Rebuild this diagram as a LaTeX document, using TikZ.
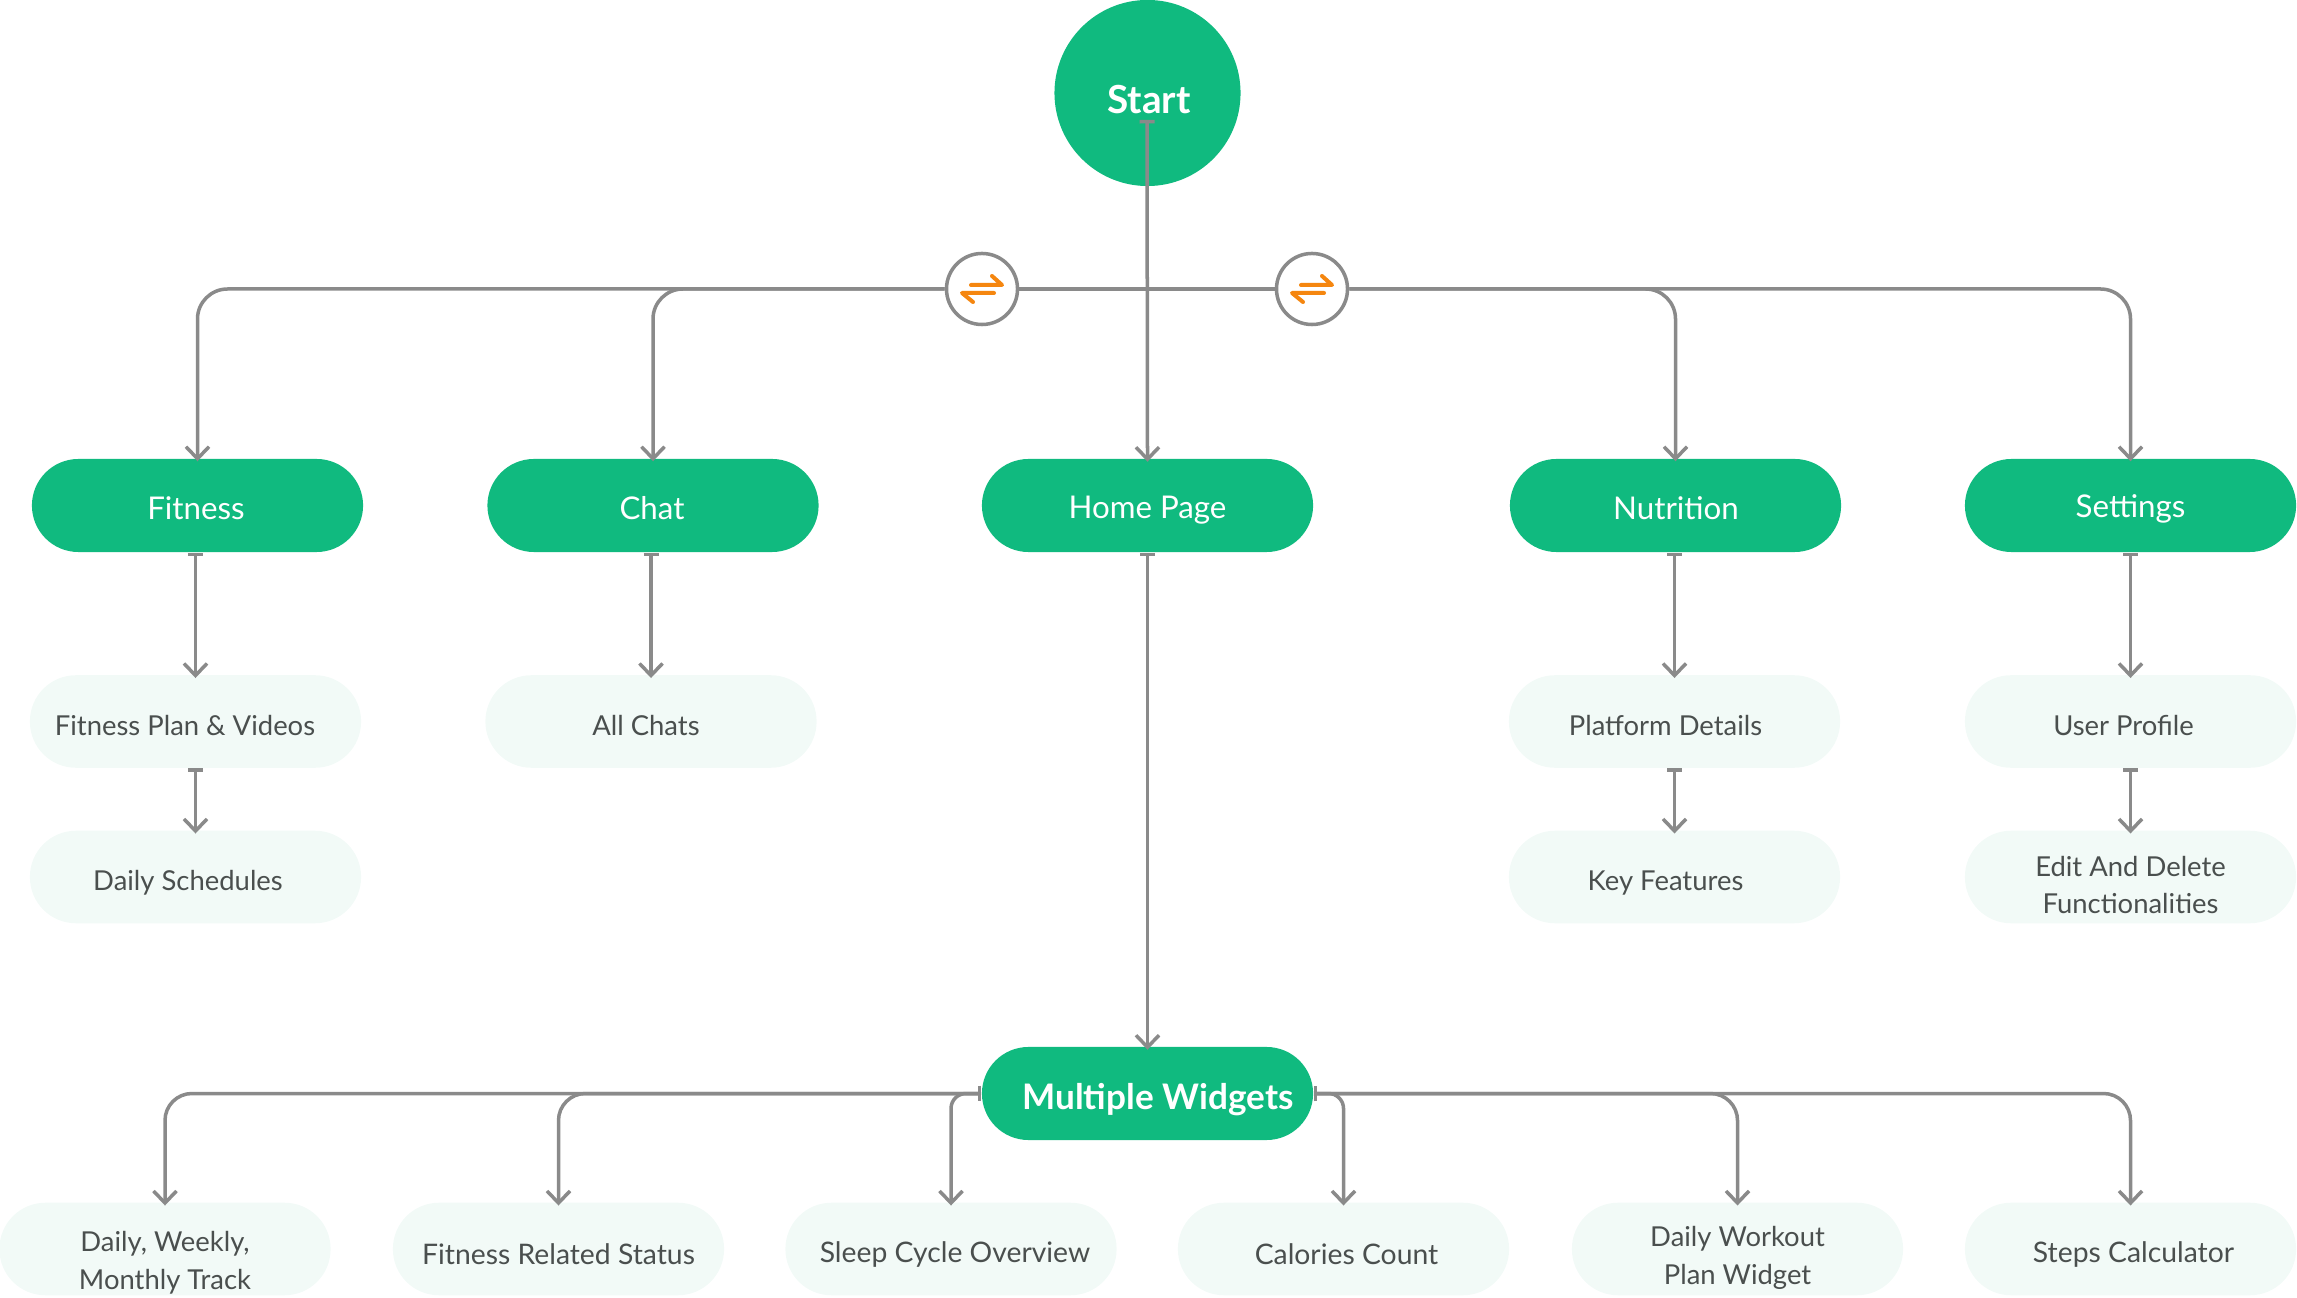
\documentclass[tikz,border=0pt]{standalone}
\usepackage{fontspec}
\setmainfont{Lato}
\usetikzlibrary{arrows.meta}
\definecolor{mintgreen}{HTML}{10BA7F}
\definecolor{palemint}{HTML}{F2FAF7}
\definecolor{linegray}{HTML}{8A8A8A}
\definecolor{darktext}{HTML}{4A4F4E}
\definecolor{swaporange}{HTML}{F5860F}
\tikzset{
  mainbox/.style={fill=mintgreen,minimum width=3.31cm,minimum height=.93cm,inner sep=0pt,rounded corners=.465cm},
  subbox/.style={fill=palemint,minimum width=3.31cm,minimum height=.925cm,inner sep=0pt,rounded corners=.46cm},
  maintext/.style={text=white,font=\fontsize{8.9}{10}\selectfont},
  boldtext/.style={text=white,font=\fontsize{10}{11}\selectfont\bfseries},
  subtext/.style={text=darktext,align=center,font=\fontsize{7.8}{10.8}\selectfont},
  lasttext/.style={text=darktext,align=center,font=\fontsize{8.05}{10.8}\selectfont},
  swapnode/.style={circle,draw=linegray,line width=.035cm,fill=white,minimum size=.71cm,inner sep=0pt},
  barb/.tip={Straight Barb[length=.12cm,width=.23cm,line width=.035cm]},
  flow/.style={draw=linegray,line width=.035cm,{Bar[width=.15cm,line width=.035cm]}-barb,shorten >=-.035cm},
  branch/.style={draw=linegray,line width=.035cm,-barb,rounded corners=.3cm,shorten >=-.03cm}
}
\begin{document}
\begin{tikzpicture}[x=.01cm,y=-.01cm]
    \useasboundingbox (0,0) rectangle (2297,1298);

    % Row heights
    \def\ymain{505.5}   % Fitness, Chat, Home Page, ...
    \def\yone{721.5}    % first sub row
    \def\ytwo{877}      % second sub row
    \def\ylast{1249}    % widget row

    % -- Start and the green row --
    \node[circle,fill=mintgreen,minimum size=1.86cm,inner sep=0pt,
      label={[boldtext,font=\fontsize{11}{12}\selectfont\bfseries,shift={(1.5,6.5)}]center:Start}] (start) at (1147.5,93) {};
    \coordinate (startend) at (1147,120);

    \node[mainbox,label={[maintext,shift={(-1.5,3)}]center:Fitness}] (fitness) at (197.5,\ymain) {};
    \node[mainbox,label={[maintext,shift={(-1,3)}]center:Chat}] (chat) at (653,\ymain) {};
    \node[mainbox,label={[maintext,shift={(0,5)}]center:Home Page}] (home) at (1147.5,\ymain) {};
    \node[mainbox,label={[maintext,shift={(0.5,3)}]center:Nutrition}] (nutrition) at (1675.5,\ymain) {};
    \node[mainbox,label={[maintext,shift={(0,3)}]center:Settings}] (settings) at (2130.5,\ymain) {};

    % -- Pale boxes under the green row --
    \node[subbox,label={[subtext,shift={(-10.5,4)}]center:Fitness Plan \& Videos}] (fitplan) at (195.5,\yone) {};
    \node[subbox,label={[subtext,shift={(-5,4)}]center:All Chats}] (allchats) at (651,\yone) {};
    \node[subbox,label={[subtext,shift={(-9,4)}]center:Platform Details}] (platform) at (1674.5,\yone) {};
    \node[subbox,label={[subtext,shift={(-7,4)}]center:User Profile}] (profile) at (2130.5,\yone) {};

    \node[subbox,label={[subtext,shift={(-7.5,6)}]center:Daily Schedules}] (schedules) at (195.5,\ytwo) {};
    \node[subbox,label={[subtext,shift={(-9,6)}]center:Key Features}] (features) at (1674.5,\ytwo) {};
    \node[subbox,label={[subtext,shift={(0,8)}]center:Edit And Delete\\Functionalities}] (editdelete) at (2130.5,\ytwo) {};

    % -- Multiple Widgets and its row --
    \node[mainbox,label={[boldtext,shift={(10.5,6.5)}]center:Multiple Widgets}] (widgets) at (1147.5,1093.5) {};

    \node[subbox,label={[subtext,shift={(0,14)}]center:Daily, Weekly,\\Monthly Track}] (dailytrack) at (165,\ylast) {};
    \node[subbox,label={[lasttext,shift={(0,5)}]center:Fitness Related Status}] (status) at (558.5,\ylast) {};
    \node[subbox,label={[lasttext,shift={(4,5)}]center:Sleep Cycle Overview}] (sleep) at (951,\ylast) {};
    \node[subbox,label={[lasttext,shift={(3,5)}]center:Calories Count}] (calories) at (1343.5,\ylast) {};
    \node[subbox,label={[subtext,shift={(0,9)}]center:Daily Workout\\Plan Widget}] (workout) at (1737.5,\ylast) {};
    \node[subbox,label={[lasttext,shift={(3,5)}]center:Steps Calculator}] (steps) at (2130.5,\ylast) {};

    % -- Swap circles on the top line --
    \node[swapnode] (swapl) at (982,289) {};
    \node[swapnode] (swapr) at (1312,289) {};
    \foreach \sw in {swapl,swapr} {
      \draw[swaporange,line width=.04cm,line cap=round,line join=round]
        ([shift={(-11,-4)}]\sw.center) -- ([shift={(20,-4)}]\sw.center) -- ([shift={(10,-13)}]\sw.center);
      \draw[swaporange,line width=.04cm,line cap=round,line join=round]
        ([shift={(12,4)}]\sw.center) -- ([shift={(-20,4)}]\sw.center) -- ([shift={(-9,13)}]\sw.center);
    }

    % -- Top tree --
    \draw[flow] (startend) -- (home.north);
    \draw[draw=linegray,line width=.035cm] (swapl) -- (swapr);
    \draw[branch] (swapl) -| (fitness.north);
    \draw[branch] (swapl) -| (chat.north);
    \draw[branch] (swapr) -| (nutrition.north);
    \draw[branch] (swapr) -| (settings.north);

    % -- Down the columns --
    \draw[flow] (fitness.south -| fitplan.north) -- (fitplan.north);
    \draw[flow] (fitplan) -- (schedules);
    \draw[flow] (chat.south -| allchats.north) -- (allchats.north);
    \draw[flow] (nutrition.south -| platform.north) -- (platform.north);
    \draw[flow] (platform) -- (features);
    \draw[flow] (settings) -- (profile);
    \draw[flow] (profile) -- (editdelete);
    \draw[flow] (home) -- (widgets);

    % -- Bottom tree --
    \draw[flow,rounded corners=.27cm] (widgets.west) -| (dailytrack.north);
    \draw[flow,rounded corners=.27cm] (widgets.west) -| (status.north);
    \draw[flow,rounded corners=.15cm] (widgets.west) -| (sleep.north);
    \draw[flow,rounded corners=.15cm] (widgets.east) -| (calories.north);
    \draw[flow,rounded corners=.27cm] (widgets.east) -| (workout.north);
    \draw[flow,rounded corners=.27cm] (widgets.east) -| (steps.north);

\end{tikzpicture}
\end{document}
